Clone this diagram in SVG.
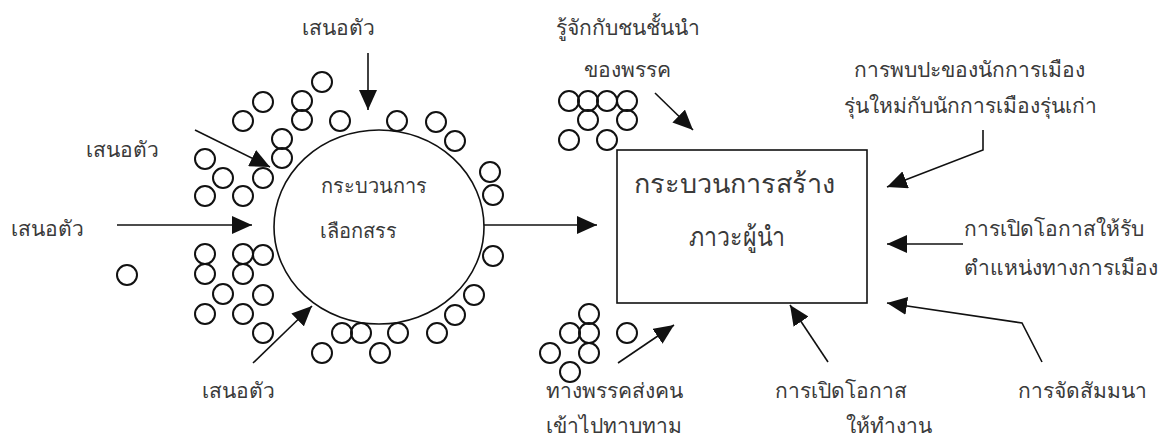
<svg xmlns="http://www.w3.org/2000/svg" width="1163" height="441" viewBox="0 0 1163 441">
<defs>
<style>
.t{font-family:"Noto Sans","DejaVu Sans",sans-serif;font-size:21px;fill:#3a3a3a;}
.big{font-size:27px;}
.mid{font-size:20px;}
.c{fill:none;stroke:#111;stroke-width:2;}
.l{fill:none;stroke:#111;stroke-width:1.6;marker-end:url(#ah);}
.s{fill:none;stroke:#111;stroke-width:1.6;}
</style>
<marker id="ah" viewBox="0 0 20 18" refX="20" refY="9" markerWidth="20" markerHeight="18" markerUnits="userSpaceOnUse" orient="auto">
<path d="M0,0 L20,9 L0,18 z" fill="#111"/>
</marker>
<circle id="sc" r="10" class="c"/>
</defs>
<rect width="1163" height="441" fill="#fff"/>

<g id="selection">
<ellipse cx="379" cy="227" rx="105" ry="97" class="s"/>
<text class="t mid" x="321" y="193">กระบวนการ</text>
<text class="t mid" x="320" y="238">เลือกสรร</text>
</g>

<g id="candidates">
<use href="#sc" x="322" y="82"/>
<use href="#sc" x="263" y="102"/>
<use href="#sc" x="243" y="121"/>
<use href="#sc" x="302" y="101"/>
<use href="#sc" x="302" y="120"/>
<use href="#sc" x="282" y="139"/>
<use href="#sc" x="282" y="158"/>
<use href="#sc" x="205" y="159"/>
<use href="#sc" x="223" y="178"/>
<use href="#sc" x="263" y="178"/>
<use href="#sc" x="205" y="196"/>
<use href="#sc" x="243" y="196"/>
<use href="#sc" x="340" y="121"/>
<use href="#sc" x="397" y="121"/>
<use href="#sc" x="436" y="122"/>
<use href="#sc" x="455" y="141"/>
<use href="#sc" x="490" y="172"/>
<use href="#sc" x="493" y="195"/>
<use href="#sc" x="493" y="256"/>
<use href="#sc" x="474" y="295"/>
<use href="#sc" x="455" y="315"/>
<use href="#sc" x="437" y="333"/>
<use href="#sc" x="398" y="333"/>
<use href="#sc" x="380" y="353"/>
<use href="#sc" x="361" y="333"/>
<use href="#sc" x="342" y="333"/>
<use href="#sc" x="322" y="353"/>
<use href="#sc" x="263" y="333"/>
<use href="#sc" x="205" y="314"/>
<use href="#sc" x="243" y="314"/>
<use href="#sc" x="223" y="294"/>
<use href="#sc" x="263" y="295"/>
<use href="#sc" x="205" y="254"/>
<use href="#sc" x="205" y="274"/>
<use href="#sc" x="243" y="254"/>
<use href="#sc" x="243" y="274"/>
<use href="#sc" x="263" y="255"/>
<use href="#sc" x="127" y="275"/>
</g>

<g id="party-elite">
<use href="#sc" x="569" y="101"/>
<use href="#sc" x="588" y="101"/>
<use href="#sc" x="607" y="101"/>
<use href="#sc" x="627" y="101"/>
<use href="#sc" x="588" y="120"/>
<use href="#sc" x="627" y="120"/>
<use href="#sc" x="569" y="140"/>
<use href="#sc" x="607" y="140"/>
</g>

<g id="party-send">
<use href="#sc" x="589" y="314"/>
<use href="#sc" x="570" y="333"/>
<use href="#sc" x="589" y="333"/>
<use href="#sc" x="589" y="353"/>
<use href="#sc" x="550" y="353"/>
<use href="#sc" x="570" y="372"/>
<use href="#sc" x="627" y="333"/>
</g>

<g id="leadership">
<rect x="617" y="150" width="250" height="153" class="s"/>
<text class="t big" x="634" y="193">กระบวนการสร้าง</text>
<text class="t big" x="737" y="246" text-anchor="middle" textLength="96" lengthAdjust="spacingAndGlyphs">ภาวะผู้นำ</text>
</g>

<g id="labels">
<text class="t" x="302" y="35">เสนอตัว</text>
<text class="t" x="86" y="157">เสนอตัว</text>
<text class="t" x="11" y="236">เสนอตัว</text>
<text class="t" x="202" y="398">เสนอตัว</text>
<text class="t" x="556" y="35">รู้จักกับชนชั้นนำ</text>
<text class="t" x="584" y="77">ของพรรค</text>
<text class="t" x="854" y="77">การพบปะของนักการเมือง</text>
<text class="t" x="844" y="113">รุ่นใหม่กับนักการเมืองรุ่นเก่า</text>
<text class="t" x="964" y="236">การเปิดโอกาสให้รับ</text>
<text class="t" x="964" y="275">ตำแหน่งทางการเมือง</text>
<text class="t" x="775" y="398">การเปิดโอกาส</text>
<text class="t" x="846" y="433">ให้ทำงาน</text>
<text class="t" x="1018" y="398">การจัดสัมมนา</text>
<text class="t" x="546" y="398">ทางพรรคส่งคน</text>
<text class="t" x="546" y="433">เข้าไปทาบทาม</text>
</g>

<g id="connectors">
<line class="l" x1="368" y1="53" x2="368" y2="110"/>
<line class="l" x1="195" y1="130" x2="270" y2="167"/>
<line class="l" x1="117" y1="225" x2="252" y2="225"/>
<line class="l" x1="253" y1="363" x2="312" y2="306"/>
<line class="l" x1="484" y1="225" x2="597" y2="225"/>
<line class="l" x1="655" y1="93" x2="693" y2="130"/>
<polyline class="l" points="983,130 983,150 887,187"/>
<line class="l" x1="963" y1="244" x2="887" y2="244"/>
<polyline class="l" points="1042,362 1022,323 887,303"/>
<line class="l" x1="828" y1="362" x2="790" y2="305"/>
<line class="l" x1="618" y1="363" x2="674" y2="325"/>
</g>
</svg>
